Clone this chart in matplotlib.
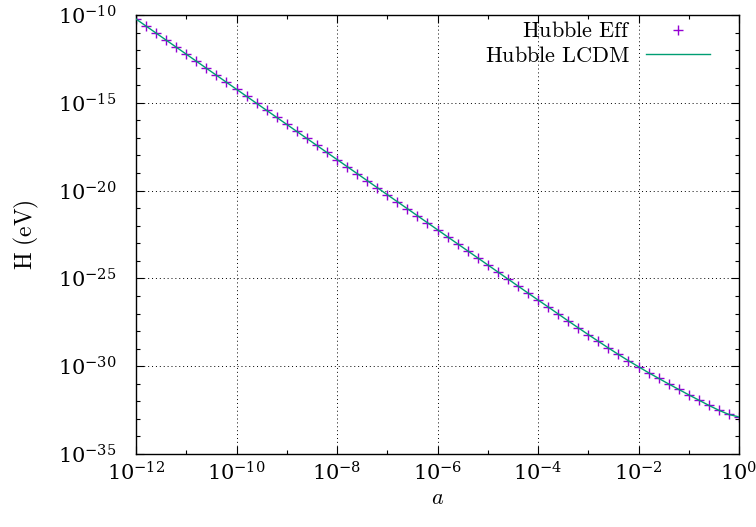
import matplotlib
matplotlib.use("Agg")
import matplotlib.pyplot as plt
import numpy as np
from matplotlib.ticker import LogLocator, NullFormatter

plt.rcParams['mathtext.fontset'] = 'cm'
plt.rcParams['font.family'] = 'serif'
plt.rcParams['font.serif'] = ['DejaVu Serif']

# log10(a), one marker every 0.2 decades
log_a = [-12.0, -11.8, -11.6, -11.4, -11.2, -11.0, -10.8, -10.6, -10.4, -10.2,
         -10.0, -9.8, -9.6, -9.4, -9.2, -9.0, -8.8, -8.6, -8.4, -8.2,
         -8.0, -7.8, -7.6, -7.4, -7.2, -7.0, -6.8, -6.6, -6.4, -6.2,
         -6.0, -5.8, -5.6, -5.4, -5.2, -5.0, -4.8, -4.6, -4.4, -4.2,
         -4.0, -3.8, -3.6, -3.4, -3.2, -3.0, -2.8, -2.6, -2.4, -2.2,
         -2.0, -1.8, -1.6, -1.4, -1.2, -1.0, -0.8, -0.6, -0.4, -0.2, 0.0]

# log10(H / eV)
log_H = [-10.23, -10.63, -11.03, -11.43, -11.83, -12.23, -12.63, -13.03, -13.43, -13.83,
         -14.23, -14.63, -15.03, -15.43, -15.83, -16.23, -16.63, -17.03, -17.43, -17.83,
         -18.23, -18.63, -19.03, -19.43, -19.83, -20.23, -20.63, -21.03, -21.43, -21.83,
         -22.23, -22.63, -23.03, -23.43, -23.83, -24.23, -24.63, -25.03, -25.43, -25.83,
         -26.23, -26.62, -27.02, -27.42, -27.81, -28.20, -28.58, -28.96, -29.33, -29.69,
         -30.03, -30.37, -30.69, -31.01, -31.32, -31.63, -31.93, -32.23, -32.51, -32.75, -32.89]

a = 10.0 ** np.array(log_a)
H_eff = 10.0 ** np.array(log_H)
H_lcdm = H_eff

fig = plt.figure(figsize=(7.56, 5.27), dpi=100)
ax = fig.add_axes([136/756, 1 - 454/527, 603/756, 439/527])

ax.plot(a, H_eff, '+', color='#9400d3', ms=7, mew=1.0, label=r'$\mathrm{Hubble\ Eff}$', zorder=2)
ax.plot(a, H_lcdm, '-', color='#009e73', lw=1.0, label=r'$\mathrm{Hubble\ LCDM}$', zorder=3)

ax.set_xscale('log')
ax.set_yscale('log')
ax.set_xlim(1e-12, 1)
ax.set_ylim(1e-35, 1e-10)

ax.xaxis.set_major_locator(LogLocator(base=100.0, numticks=20))
ax.xaxis.set_minor_locator(LogLocator(base=10.0, subs=(1.0,), numticks=30))
ax.xaxis.set_minor_formatter(NullFormatter())
ax.yaxis.set_major_locator(LogLocator(base=1e5, numticks=20))
ax.yaxis.set_minor_locator(LogLocator(base=10.0, subs=(1.0,), numticks=40))
ax.yaxis.set_minor_formatter(NullFormatter())

ax.tick_params(which='both', direction='in', top=True, right=True, labelsize=15)
ax.tick_params(which='major', length=6, width=0.8)
ax.tick_params(which='minor', length=3, width=0.8)
ax.tick_params(axis='x', which='major', pad=5)
ax.tick_params(axis='y', which='major', pad=14)

ax.grid(True, which='major', color='black', linestyle=(0, (1, 3)), linewidth=0.7)

for s in ax.spines.values():
    s.set_linewidth(1.0)

ax.set_xlabel(r'$a$', fontsize=16, labelpad=2)
ax.set_ylabel(r'$\mathrm{H\ (eV)}$', fontsize=17, labelpad=12)

leg = ax.legend(loc='upper right', bbox_to_anchor=(0.967, 1.008), frameon=False,
                markerfirst=False, fontsize=16, handlelength=2.9,
                handletextpad=0.7, borderaxespad=0.0, labelspacing=0.1)
for t in leg.get_texts():
    t.set_ha('right')

fig.savefig('out.png', dpi=100)
